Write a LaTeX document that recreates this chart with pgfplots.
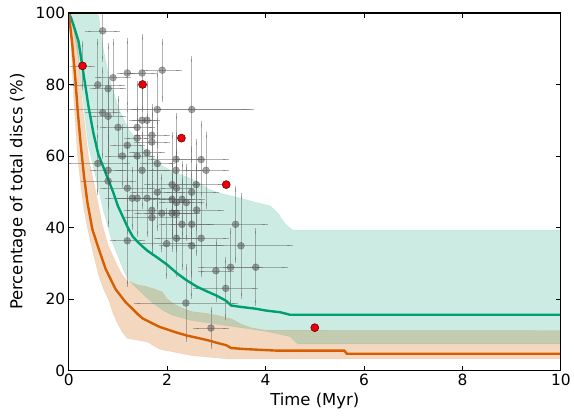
\documentclass[border=0pt]{standalone}
\usepackage{fontspec}
\setmainfont{DejaVu Sans}
\usepackage{pgfplots}
\usepackage{pgfplotstable}
\pgfplotsset{compat=1.18}
\definecolor{grn}{HTML}{009E73}
\definecolor{org}{HTML}{D55E00}
\definecolor{redpt}{HTML}{E8000B}

\pgfplotstableread{
x y ex ey
0.28 85.2 0.20 6
0.69 95.0 0.30 8
1.19 83.2 0.15 9
1.49 83.2 0.25 10
1.90 84.0 0.34 8
0.59 79.9 0.50 12
0.80 78.8 0.30 12
0.90 81.9 0.30 10
1.80 73.0 1.78 10
2.50 73.0 1.20 14
0.69 72.1 0.30 12
0.80 71.1 0.30 10
1.49 70.0 0.20 10
1.59 70.0 0.20 10
1.00 68.0 0.30 8
1.39 68.0 0.30 12
1.69 65.8 0.30 8
1.39 65.0 0.20 8
1.19 63.0 0.30 10
1.69 63.9 0.30 8
1.59 60.9 0.30 10
1.39 60.0 0.30 10
1.09 60.0 0.30 8
2.18 59.1 0.50 12
2.69 59.0 0.50 10
0.59 57.9 0.60 8
1.80 57.9 0.30 12
1.49 56.0 0.50 10
2.18 56.0 0.50 10
2.79 56.0 0.40 10
0.80 56.0 0.30 10
0.80 53.0 0.50 12
1.19 51.0 0.50 12
2.10 52.0 0.50 14
2.19 51.0 0.30 10
2.59 52.0 0.50 12
2.50 49.9 0.50 12
1.80 49.9 0.50 10
1.29 48.2 0.50 8
1.39 48.2 0.40 10
1.59 48.2 0.50 10
2.10 47.9 0.40 10
2.19 47.0 0.30 10
2.30 47.9 0.40 10
2.39 47.0 0.30 10
1.89 44.0 0.50 10
1.69 44.8 0.50 10
1.69 42.8 0.50 10
2.10 44.0 0.50 10
2.19 44.0 0.30 10
2.60 44.9 0.50 12
2.30 40.9 0.40 12
2.50 40.9 0.40 14
2.19 37.0 0.40 10
2.69 37.0 0.50 10
2.50 34.9 0.60 14
1.99 35.5 0.50 9
1.19 36.3 0.30 12
3.39 40.9 0.60 10
3.50 34.9 1.00 14
2.99 27.9 0.30 8
3.29 28.9 0.60 10
3.80 28.9 0.60 10
3.19 23.0 0.60 8
2.38 18.9 1.00 10
2.89 11.9 0.30 5
}\greypts

\pgfplotstableread{
x y
0.28 85.2
1.50 80.0
2.29 65.0
3.20 52.0
5.00 12.0
}\redpts

\begin{document}
\begin{tikzpicture}
\begin{axis}[
  width=494pt, height=359pt, scale only axis,
  xmin=0, xmax=10, ymin=0, ymax=100,
  xtick={0,2,4,6,8,10}, ytick={0,20,40,60,80,100},
  tick align=inside, major tick length=5pt,
  tick style={black, line width=0.8pt},
  axis line style={line width=1.2pt},
  xlabel={Time (Myr)},
  ylabel={Percentage of total discs (\%)},
  ylabel shift=3pt,
  tick label style={font=\fontsize{15.5}{18}\selectfont},
  label style={font=\fontsize{16.5}{20}\selectfont},
  /pgf/number format/assume math mode=true,
  axis on top,
]
% orange band
\addplot[fill=org, fill opacity=0.25, draw=org, draw opacity=0.12, line width=0.5pt] coordinates {
(0,100)(0.1,96)(0.18,91)(0.28,74)(0.41,59)(0.55,50)(0.68,41)(0.8,35)(0.9,32)(1.0,29)(1.1,26.5)(1.2,25)(1.4,24)(1.55,23.6)(1.7,23)(1.9,22)(2.0,20)(2.15,18.5)(2.3,17.5)(2.5,16.5)(2.8,16)(3.0,15.5)(3.3,14.5)(3.5,13)(3.7,12)(4.0,11.3)(10,11.2)
(10,3.3)(3.2,3.3)(2.5,4.2)(2.2,5)(1.84,6)(1.6,8)(1.4,8.5)(1.19,9)(1.1,10.5)(1.0,13)(0.9,16)(0.82,19.5)(0.7,23)(0.61,26.5)(0.53,31)(0.45,35.5)(0.38,40)(0.31,45)(0.25,51)(0.18,60)(0.11,74)(0.08,82)(0.04,92)(0,100)
};
% green band
\addplot[fill=grn, fill opacity=0.2, draw=grn, draw opacity=0.12, line width=0.5pt] coordinates {
(0,100)(0.55,100)(0.61,99)(0.68,91.5)(0.82,82)(1.02,73)(1.22,67.4)(1.42,63.7)(1.69,60)(1.9,57.2)(2.17,55.4)(2.6,53)(2.85,50.7)(3.1,49.5)(3.4,48.5)(3.7,47.4)(4.1,46)(4.25,44)(4.4,41)(4.55,39.3)(10,39.3)
(10,7.5)(4.65,7.5)(4.5,9.5)(4.0,11)(3.5,12)(3.0,13)(2.5,14)(2.1,15.5)(1.9,17)(1.7,19)(1.5,21.5)(1.35,23.5)(1.2,25.5)(1.1,28.5)(1.0,32)(0.88,36)(0.7,45)(0.55,54)(0.4,63)(0.31,73)(0.2,87)(0.1,95)(0,100)
};
% grey data with error bars
\addplot[only marks, mark=*, mark size=3.5pt,
  mark options={fill=black!70, draw=black!70, opacity=0.5},
  error bars/.cd, x dir=both, x explicit, y dir=both, y explicit,
  error bar style={black!60, opacity=0.5, line width=0.6pt},
  error mark options={black!60, opacity=0.5, mark size=3pt, line width=0.6pt}]
  table[x=x, y=y, x error=ex, y error=ey] {\greypts};
% curves
\addplot[grn, line width=2.4pt] coordinates {
(0,100)(0.05,98.5)(0.1,96.5)(0.2,92)(0.3,83)(0.4,74)(0.5,66.5)(0.6,60.5)(0.7,57)(0.8,53.5)(0.9,50)(1.0,46)(1.1,43)(1.2,40)(1.3,37.5)(1.4,36)(1.5,34.7)(1.6,33.5)(1.8,31.6)(2.0,29.6)(2.2,27.2)(2.4,25.2)(2.6,23.5)(2.8,22.2)(3.0,21)(3.2,19.5)(3.3,18.2)(3.5,17.8)(3.8,17.3)(4.0,16.8)(4.3,16.3)(4.5,15.6)(10,15.6)
};
\addplot[org, line width=2.4pt] coordinates {
(0,100)(0.07,91.5)(0.13,82.3)(0.18,73)(0.24,63.7)(0.31,54.4)(0.38,47)(0.48,39.5)(0.61,34)(0.75,28.4)(0.95,22.8)(1.15,19.2)(1.3,17.2)(1.4,15.8)(1.5,14.6)(1.7,13.2)(1.85,12.2)(2.0,11.5)(2.2,10.6)(2.4,9.8)(2.6,9.2)(2.85,8.4)(3.0,7.8)(3.2,7.1)(3.3,6.3)(3.6,6.0)(4.2,5.6)(5.6,5.6)(5.65,4.7)(10,4.7)
};
% red points
\addplot[only marks, mark=*, mark size=4pt, mark options={fill=redpt, draw=red!45!black, line width=0.6pt}]
  table[x=x, y=y] {\redpts};
\end{axis}
\path (current axis.south west) ++(-69pt,-46pt) coordinate (bbA);
\path (current axis.north east) ++(11pt,13pt) coordinate (bbB);
\path (bbA) (bbB);
\end{tikzpicture}
\end{document}
